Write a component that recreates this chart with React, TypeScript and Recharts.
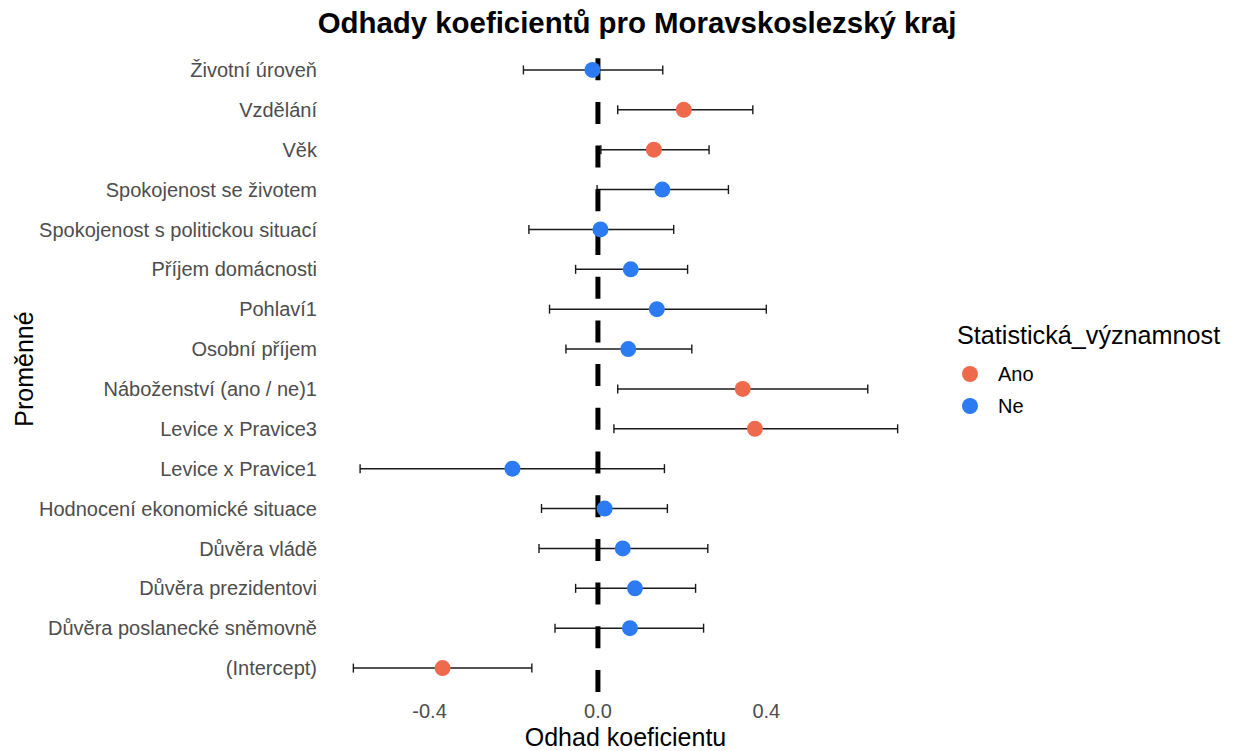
import React from 'react';
import { ScatterChart, Scatter, XAxis, YAxis, ErrorBar, ReferenceLine, Legend } from 'recharts';

const FONT = '"Liberation Sans", Arial, sans-serif';

// Coefficient estimates with 95% confidence limits, listed top to bottom
const variables = [
  'Životní úroveň',
  'Vzdělání',
  'Věk',
  'Spokojenost se životem',
  'Spokojenost s politickou situací',
  'Příjem domácnosti',
  'Pohlaví1',
  'Osobní příjem',
  'Náboženství (ano / ne)1',
  'Levice x Pravice3',
  'Levice x Pravice1',
  'Hodnocení ekonomické situace',
  'Důvěra vládě',
  'Důvěra prezidentovi',
  'Důvěra poslanecké sněmovně',
  '(Intercept)',
];
const estimates = [-0.013, 0.204, 0.133, 0.153, 0.006, 0.078, 0.14, 0.072, 0.344, 0.373, -0.203, 0.016, 0.059, 0.088, 0.076, -0.369];
const lowerCI = [-0.177, 0.047, 0.007, -0.002, -0.164, -0.053, -0.115, -0.076, 0.047, 0.038, -0.565, -0.134, -0.14, -0.053, -0.102, -0.581];
const upperCI = [0.154, 0.368, 0.264, 0.31, 0.18, 0.213, 0.4, 0.223, 0.641, 0.712, 0.158, 0.165, 0.261, 0.232, 0.251, -0.157];
const significance = ['Ne', 'Ano', 'Ano', 'Ne', 'Ne', 'Ne', 'Ne', 'Ne', 'Ano', 'Ano', 'Ne', 'Ne', 'Ne', 'Ne', 'Ne', 'Ano'];

const xTicks = [-0.4, 0, 0.4];
const legendLevels = ['Ano', 'Ne'];
const levelColors: Record<string, string> = { Ano: '#EF6A4C', Ne: '#2C7BF2' };

const rows = variables.map((name, i) => ({
  name,
  est: estimates[i],
  err: [estimates[i] - lowerCI[i], upperCI[i] - estimates[i]],
  sig: significance[i],
}));

const Dot = (p: any) => (
  <circle cx={p.cx} cy={p.cy} r={8} fill={levelColors[p.payload?.sig ?? p.sig]} />
);

// Dashed zero line, drawn upward from the bottom edge of the panel
const ZeroLine = (p: any) => {
  const top = Math.min(p.y1, p.y2) - 4;
  const bottom = Math.max(p.y1, p.y2) + 4;
  return (
    <line x1={p.x1} x2={p.x2} y1={bottom} y2={top} stroke="#000" strokeWidth={5} strokeDasharray="22 21.7" />
  );
};

const LegendBox = () => (
  <svg width={283} height={110} style={{ display: 'block' }}>
    <text x={7} y={28} fontSize={25.2} fill="#000" fontFamily={FONT}>Statistická_významnost</text>
    {legendLevels.map((lvl, i) => (
      <g key={lvl}>
        <circle cx={20} cy={58 + i * 32} r={8} fill={levelColors[lvl]} />
        <text x={48} y={65 + i * 32} fontSize={20} fill="#000" fontFamily={FONT}>{lvl}</text>
      </g>
    ))}
  </svg>
);

export default function App() {
  return (
    <div style={{ position: 'absolute', left: 0, top: 0, width: 1233, height: 751, background: '#fff', fontFamily: FONT }}>
      <ScatterChart width={1233} height={751} margin={{ top: 50, right: 308, bottom: 0, left: 0 }}>
        <text x={637} y={33} textAnchor="middle" fontSize={29.4} fontWeight="bold" fill="#000" fontFamily={FONT}>
          Odhady koeficientů pro Moravskoslezský kraj
        </text>
        <XAxis
          type="number"
          dataKey="est"
          domain={[-0.646, 0.777]}
          ticks={xTicks}
          tickFormatter={(v: number) => v.toFixed(1)}
          axisLine={false}
          tickLine={false}
          tickMargin={10}
          height={63}
          allowDataOverflow
          tick={{ fill: '#4D4D4D', fontSize: 20, fontFamily: FONT }}
          label={{ value: 'Odhad koeficientu', position: 'insideBottom', offset: 5, fill: '#000', fontSize: 25, fontFamily: FONT }}
        />
        <YAxis
          type="category"
          dataKey="name"
          reversed
          width={326}
          axisLine={false}
          tickLine={false}
          tickMargin={3}
          interval={0}
          tick={{ fill: '#4D4D4D', fontSize: 20, fontFamily: FONT }}
          label={{ value: 'Proměnné', angle: -90, position: 'insideLeft', offset: 24, style: { textAnchor: 'middle' }, fill: '#000', fontSize: 25, fontFamily: FONT }}
        />
        <Scatter data={rows} shape={Dot} isAnimationActive={false}>
          <ErrorBar dataKey="err" direction="x" width={4.5} stroke="#1a1a1a" strokeWidth={1.4} isAnimationActive={false} />
        </Scatter>
        <ReferenceLine x={0} shape={ZeroLine} />
        <Legend
          layout="vertical"
          align="center"
          verticalAlign="middle"
          wrapperStyle={{ left: 950, top: 316, width: 283, height: 110 }}
          content={() => <LegendBox />}
        />
      </ScatterChart>
    </div>
  );
}
